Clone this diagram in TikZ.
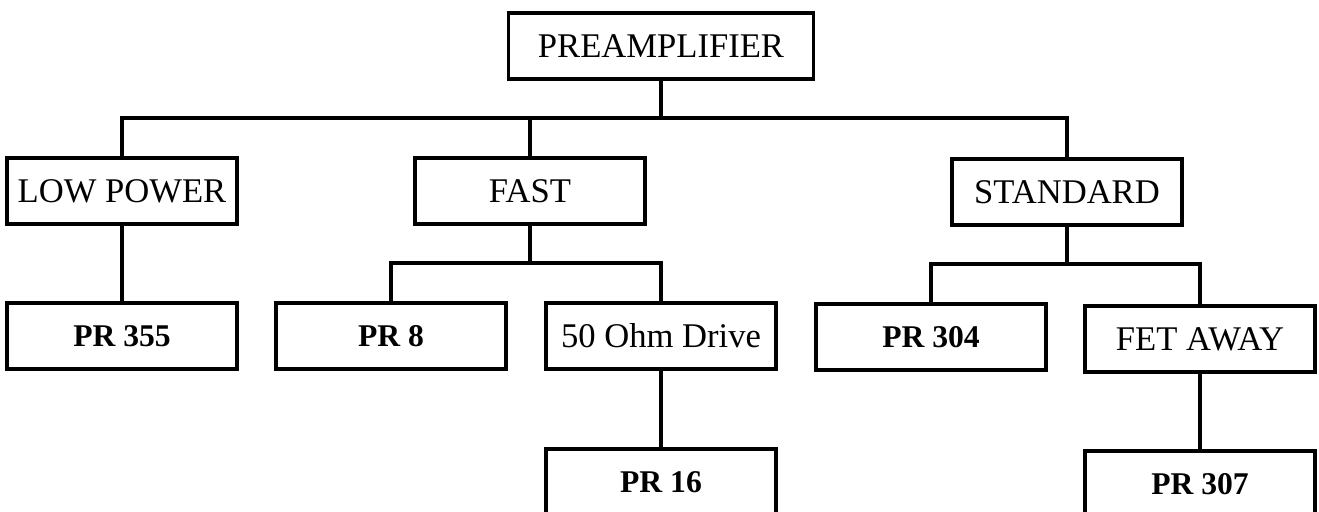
\documentclass[tikz,border=0pt]{standalone}
\usepackage{fontspec}
\setmainfont{Liberation Serif}
\usetikzlibrary{calc}

\begin{document}
\begin{tikzpicture} [x=0.02cm, y=-0.02cm,
  blk/.style={draw, line width=2.1pt, minimum width=4.6cm, minimum height=1.32cm, inner sep=0, font=\fontsize{19.7}{24}\selectfont},
  pr/.style={blk, font=\fontsize{18}{22}\selectfont\bfseries},
  link/.style={line width=2.3pt}]
\clip (0,0) rectangle (1319,511);
\fill[white] (0,0) rectangle (1319,511);
% top and first level
\node[blk, minimum width=6.1cm] (pre) at (661,46) {PREAMPLIFIER};
\node[blk] (low) at (122,191) {LOW POWER};
\node[blk] (fast) at (530,191) {FAST};
\node[blk] (std) at (1067,192) {STANDARD};
% second level
\node[pr] (p355) at (122,336) {PR 355};
\node[pr] (p8) at (391,336) {PR 8};
\node[blk] (ohm) at (661,336) {50 Ohm Drive};
\node[pr] (p304) at (931,337) {PR 304};
\node[blk] (fet) at (1200,339) {FET AWAY};
% third level
\node[pr] (p16) at (661,482) {PR 16};
\node[pr] (p307) at (1200,484) {PR 307};
% bus levels
\coordinate (bus) at (0,118);
\coordinate (fbus) at (0,263);
\coordinate (sbus) at (0,264);
\draw[link] (pre.south) -- (pre.south |- bus);
\draw[link] (low.north) |- (std.north |- bus) -- (std.north);
\draw[link] (fast.north) -- (fast.north |- bus);
\draw[link] (fast.south) -- (fast.south |- fbus);
\draw[link] (p8.north) |- (ohm.north |- fbus) -- (ohm.north);
\draw[link] (std.south) -- (std.south |- sbus);
\draw[link] (p304.north) |- (fet.north |- sbus) -- (fet.north);
\foreach \a/\b in {low/p355, ohm/p16, fet/p307} {
 \draw[link] (\a) -- (\b);
}
\end{tikzpicture}
\end{document}
